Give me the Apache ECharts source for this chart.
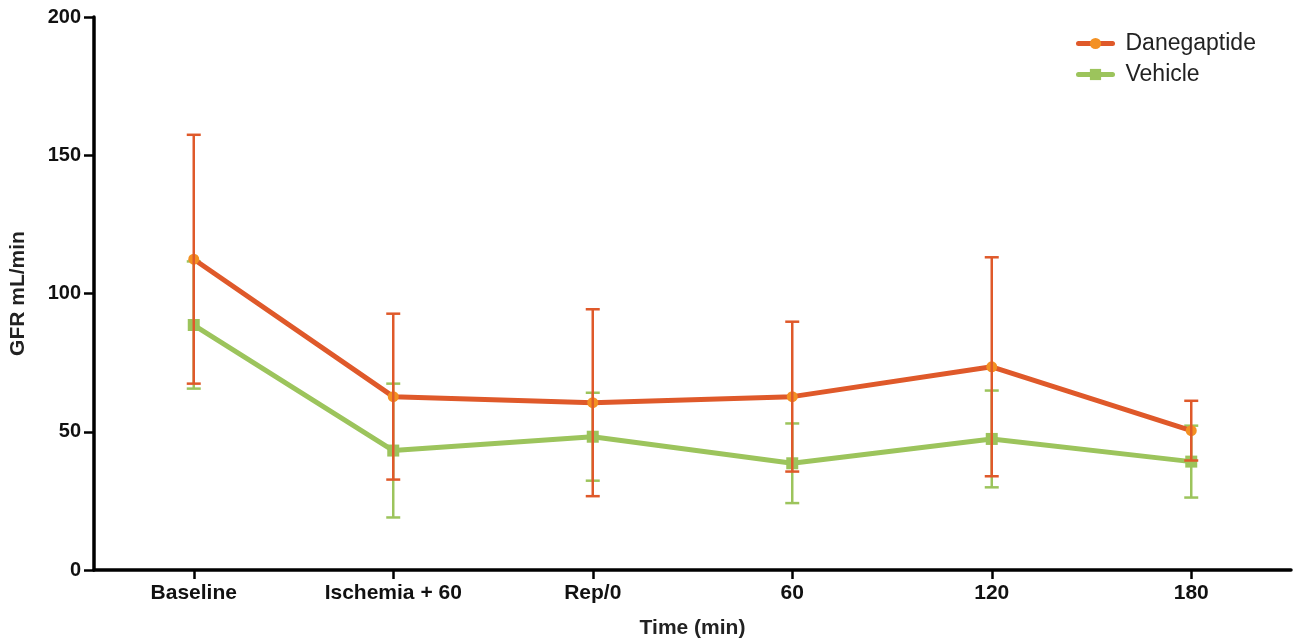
<!DOCTYPE html>
<html>
<head>
<meta charset="utf-8">
<script src="https://cdn.jsdelivr.net/npm/echarts@6/dist/echarts.min.js"></script>
<style>
html,body{margin:0;padding:0;background:#fff;}
#chart{width:1303px;height:643px;}
</style>
</head>
<body>
<div id="chart"></div>
<script>
const categories = ['Baseline', 'Ischemia + 60', 'Rep/0', '60', '120', '180'];
const daneMean = [112.4, 62.7, 60.5, 62.7, 73.5, 50.4];
const daneErr  = [45.0, 30.0, 33.8, 27.1, 39.6, 10.8];
const vehMean  = [88.6, 43.2, 48.2, 38.6, 47.4, 39.2];
const vehErr   = [23.0, 24.2, 15.9, 14.4, 17.5, 13.0];
const yTicks = [0, 50, 100, 150, 200];

const RED = '#DF592A', ORANGE = '#F39123', GREEN = '#9CC45C';
const FONT = 'Liberation Sans, Arial, Helvetica, sans-serif';

function errData(mean, err) {
  return mean.map((m, i) => [i, m - err[i], m + err[i]]);
}
function errRender(color) {
  return function (params, api) {
    const i = api.value(0);
    const lo = api.coord([i, api.value(1)]);
    const hi = api.coord([i, api.value(2)]);
    const hw = 7;
    const style = { stroke: color, lineWidth: 2.5 };
    return {
      type: 'group',
      children: [
        { type: 'line', shape: { x1: lo[0], y1: lo[1], x2: hi[0], y2: hi[1] }, style: style },
        { type: 'line', shape: { x1: hi[0] - hw, y1: hi[1], x2: hi[0] + hw, y2: hi[1] }, style: style },
        { type: 'line', shape: { x1: lo[0] - hw, y1: lo[1], x2: lo[0] + hw, y2: lo[1] }, style: style }
      ]
    };
  };
}

const chart = echarts.init(document.getElementById('chart'), null, { renderer: 'canvas' });
chart.setOption({
  animation: false,
  textStyle: { fontFamily: FONT },
  grid: { left: 94, right: 12, top: 17, bottom: 73, containLabel: false, outerBoundsMode: 'none' },
  legend: {
    data: ['Danegaptide', 'Vehicle'],
    orient: 'vertical',
    left: 1071, top: 27,
    itemWidth: 34, itemHeight: 14, itemGap: 8,
    lineStyle: { width: 5, cap: 'round' },
    textStyle: { fontSize: 23, color: '#222', fontFamily: FONT, padding: [0, 0, 0, 8] }
  },
  xAxis: {
    type: 'category',
    data: categories,
    boundaryGap: true,
    name: 'Time (min)',
    nameLocation: 'middle',
    nameGap: 48,
    nameTextStyle: { fontSize: 21, fontWeight: 'bold', color: '#222', fontFamily: FONT },
    axisLine: { lineStyle: { color: '#000', width: 3.5 } },
    axisTick: { show: true, alignWithLabel: true, length: 9, lineStyle: { color: '#000', width: 2.5 } },
    axisLabel: { fontSize: 21, fontWeight: 'bold', color: '#111', margin: 13, fontFamily: FONT, interval: 0 },
    splitLine: { show: false }
  },
  yAxis: {
    type: 'value',
    min: yTicks[0], max: yTicks[yTicks.length - 1], interval: 50,
    name: 'GFR mL/min',
    nameLocation: 'middle',
    nameGap: 65,
    nameRotate: 90,
    nameTextStyle: { fontSize: 21, fontWeight: 'bold', color: '#222', fontFamily: FONT },
    axisLine: { show: true, lineStyle: { color: '#000', width: 3.5 } },
    axisTick: { show: true, length: 10, lineStyle: { color: '#000', width: 2.5 } },
    axisLabel: { fontSize: 20, fontWeight: 'bold', color: '#111', margin: 13, fontFamily: FONT },
    splitLine: { show: false }
  },
  series: [
    {
      name: 'Vehicle', type: 'line', data: vehMean, z: 2,
      symbol: 'rect', symbolSize: 12,
      lineStyle: { color: GREEN, width: 5 },
      itemStyle: { color: GREEN }
    },
    {
      name: 'Vehicle SD', type: 'custom', z: 3,
      renderItem: errRender(GREEN),
      data: errData(vehMean, vehErr)
    },
    {
      name: 'Danegaptide', type: 'line', data: daneMean, z: 4,
      symbol: 'circle', symbolSize: 11,
      lineStyle: { color: RED, width: 5 },
      itemStyle: { color: ORANGE }
    },
    {
      name: 'Danegaptide SD', type: 'custom', z: 5,
      renderItem: errRender(RED),
      data: errData(daneMean, daneErr)
    }
  ]
});
</script>
</body>
</html>
